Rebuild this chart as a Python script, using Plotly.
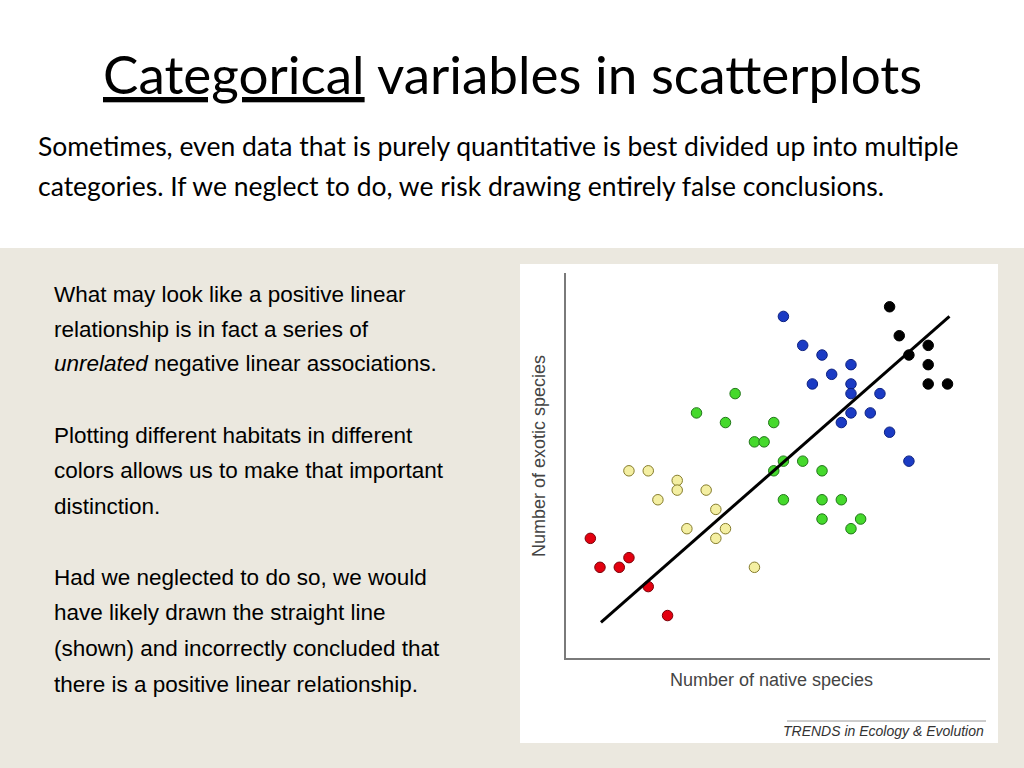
import plotly.graph_objects as go

# ---- data (grid units) ----
red_x = [2, 3, 5, 6, 8, 10]
red_y = [12, 9, 9, 10, 7, 4]

yellow_x = [6, 8, 11, 11, 14, 9, 15, 12, 16, 15, 19]
yellow_y = [19, 19, 18, 17, 17, 16, 15, 13, 13, 12, 9]

green_x = [17, 13, 16, 21, 19, 20, 22, 24, 21, 26, 22, 26, 28, 26, 30, 29]
green_y = [27, 25, 24, 24, 22, 22, 20, 20, 19, 19, 16, 16, 16, 14, 14, 13]

blue_x = [22, 24, 26, 29, 27, 25, 29, 29, 32, 29, 31, 28, 33, 35]
blue_y = [35, 32, 31, 30, 29, 28, 28, 27, 27, 25, 25, 24, 23, 20]

black_x = [33, 34, 37, 35, 37, 37, 39]
black_y = [36, 33, 32, 31, 30, 28, 28]

fit_x = [3.1, 39.2]
fit_y = [3.3, 35.0]

title_text = "<u>Categorical</u> variables in scatterplots"
subtitle_lines = [
    "Sometimes, even data that is purely quantitative is best divided up into multiple",
    "categories. If we neglect to do, we risk drawing entirely false conclusions.",
]
body_lines = [
    "What may look like a positive linear",
    "relationship is in fact a series of",
    "<i>unrelated</i> negative linear associations.",
    "",
    "Plotting different habitats in different",
    "colors allows us to make that important",
    "distinction.",
    "",
    "Had we neglected to do so, we would",
    "have likely drawn the straight line",
    "(shown) and incorrectly concluded that",
    "there is a positive linear relationship.",
]
x_title = "Number of native species"
y_title = "Number of exotic species"
source_text = "TRENDS in Ecology &amp; Evolution"

W, H = 1024, 768


def px(x):
    return x / W


def py(y):
    return 1 - y / H


fig = go.Figure()

groups = [
    (red_x, red_y, "#e3000f", "#7a0008"),
    (yellow_x, yellow_y, "#f4efa2", "#857c2c"),
    (green_x, green_y, "#45d92c", "#22761a"),
    (blue_x, blue_y, "#1b3bc4", "#0d2180"),
    (black_x, black_y, "#000000", "#000000"),
]
for gx, gy, fill, edge in groups:
    fig.add_trace(go.Scatter(
        x=gx, y=gy, mode="markers",
        marker=dict(size=10.5, color=fill, line=dict(color=edge, width=1)),
        showlegend=False, hoverinfo="skip",
    ))

fig.add_trace(go.Scatter(
    x=fit_x, y=fit_y, mode="lines",
    line=dict(color="#000000", width=3),
    showlegend=False, hoverinfo="skip",
))

shapes = [
    dict(type="rect", xref="paper", yref="paper", x0=0, x1=1, y0=0, y1=py(248),
         fillcolor="#ebe8df", line=dict(width=0), layer="below"),
    dict(type="rect", xref="paper", yref="paper", x0=px(520), x1=px(998),
         y0=py(743), y1=py(264), fillcolor="#ffffff", line=dict(width=0), layer="below"),
    dict(type="line", xref="paper", yref="paper", x0=px(787), x1=px(986),
         y0=py(721), y1=py(721), line=dict(color="#9a9a9a", width=1)),
]

annotations = [
    dict(text=title_text, x=0.5, y=py(74), xref="paper", yref="paper",
         xanchor="center", yanchor="middle", showarrow=False,
         font=dict(family="Lato", size=53, color="#000000")),
]
for i, line in enumerate(subtitle_lines):
    annotations.append(dict(
        text=line, x=px(36), y=py(146 + 40 * i), xref="paper", yref="paper",
        xanchor="left", yanchor="middle", showarrow=False,
        font=dict(family="Lato", size=26.5, color="#000000")))

body_y = [294, 329, 364, 399, 435, 470, 506, 541, 577, 612, 648, 684]
for line, yy in zip(body_lines, body_y):
    if not line:
        continue
    annotations.append(dict(
        text=line, x=px(52), y=py(yy), xref="paper", yref="paper",
        xanchor="left", yanchor="middle", showarrow=False,
        font=dict(family="Liberation Sans", size=22.5, color="#000000")))

annotations += [
    dict(text=x_title, x=px(771), y=py(680), xref="paper", yref="paper",
         xanchor="center", yanchor="middle", showarrow=False,
         font=dict(family="Liberation Sans", size=18, color="#444444")),
    dict(text=y_title, x=px(539), y=py(456), xref="paper", yref="paper",
         xanchor="center", yanchor="middle", showarrow=False, textangle=-90,
         font=dict(family="Liberation Sans", size=18, color="#444444")),
    dict(text="<i>" + source_text + "</i>", x=px(986), y=py(731), xref="paper", yref="paper",
         xanchor="right", yanchor="middle", showarrow=False,
         font=dict(family="Liberation Sans", size=14, color="#333333")),
]

axis_common = dict(showgrid=False, zeroline=False, showticklabels=False, ticks="",
                   showline=True, linecolor="#7a7a7a", linewidth=1.5, fixedrange=True)

fig.update_layout(
    width=W, height=H,
    margin=dict(l=0, r=0, t=0, b=0),
    paper_bgcolor="#ffffff",
    plot_bgcolor="rgba(0,0,0,0)",
    xaxis=dict(range=[-0.52, 43.4], domain=[px(566), px(990)], **axis_common),
    yaxis=dict(range=[-0.4, 39.5], domain=[py(658), py(273)], **axis_common),
    shapes=shapes,
    annotations=annotations,
)

fig.write_html("out.html", config={"displayModeBar": False},
               post_script="document.body.style.margin='0px';")
